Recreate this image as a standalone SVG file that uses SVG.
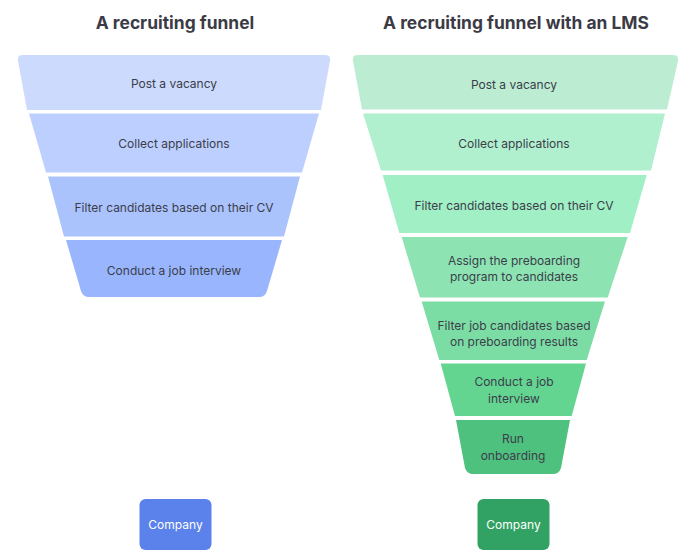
<svg xmlns="http://www.w3.org/2000/svg" width="700" height="559" viewBox="0 0 700 559">
<style>
.title{font-family:Inter,"Noto Sans",sans-serif;font-weight:700;font-size:17.4px;fill:#3b3b46;text-anchor:middle}
.lbl{font-family:Inter,"Noto Sans",sans-serif;font-size:12px;fill:#3b3d4b;text-anchor:middle;dominant-baseline:central}
.co{font-family:Inter,"Noto Sans",sans-serif;font-size:12px;fill:#ffffff;text-anchor:middle;dominant-baseline:central}
</style>
<rect width="700" height="559" fill="#ffffff"/>
<text class="title" x="175" y="29">A recruiting funnel</text>
<text class="title" x="516" y="29">A recruiting funnel with an LMS</text>

<g id="left-funnel">
<g id="l1"><path d="M23,55 H325 Q331,55 330,61 L321,110 H27 L18,61 Q17,55 23,55 Z" fill="#ccdafd"/><text class="lbl" x="174" y="83">Post a vacancy</text></g>
<g id="l2"><path d="M29,113.5 H319 L302,172.5 H46 Z" fill="#bdcffe"/><text class="lbl" x="174" y="143">Collect applications</text></g>
<g id="l3"><path d="M48,176.5 H300 L284,236.5 H64 Z" fill="#abc3fd"/><text class="lbl" x="174" y="207">Filter candidates based on their CV</text></g>
<g id="l4"><path d="M66,240 H282 L267,291 Q265,297 259,297 H89 Q83,297 81,291 Z" fill="#98b5fd"/><text class="lbl" x="174" y="270">Conduct a job interview</text></g>
</g>

<g id="right-funnel">
<g id="r1"><path d="M358,55 H673 Q679,55 678,61 L667,109.5 H362 L353,61 Q352,55 358,55 Z" fill="#bcedd3"/><text class="lbl" x="514" y="84">Post a vacancy</text></g>
<g id="r2"><path d="M363,113.5 H665 L651,170.5 H381 Z" fill="#b0f0ce"/><text class="lbl" x="514" y="143">Collect applications</text></g>
<g id="r3"><path d="M382.7,175 H646.7 L630,233 H399.3 Z" fill="#a1efc4"/><text class="lbl" x="514" y="205.5">Filter candidates based on their CV</text></g>
<g id="r4"><path d="M401.7,237 H627.7 L607.7,297.5 H420 Z" fill="#8de4b2"/><text class="lbl" x="514" y="260">Assign the preboarding</text><text class="lbl" x="514" y="276.5">program to candidates</text></g>
<g id="r5"><path d="M421.7,301.5 H605 L586.7,360 H439.3 Z" fill="#7bdda4"/><text class="lbl" x="514" y="325">Filter job candidates based</text><text class="lbl" x="514" y="341">on preboarding results</text></g>
<g id="r6"><path d="M440.7,363.5 H586 L571.7,416 H455 Z" fill="#64d591"/><text class="lbl" x="514" y="381.5">Conduct a job</text><text class="lbl" x="514" y="398">interview</text></g>
<g id="r7"><path d="M456,420 H570 L561,468 Q559,474 553,474 H473 Q467,474 465,468 Z" fill="#4fc17e"/><text class="lbl" x="513" y="438.5">Run</text><text class="lbl" x="513" y="455">onboarding</text></g>
</g>

<g id="company-left"><rect x="139.5" y="499" width="72" height="51" rx="6" fill="#5a82ea"/><text class="co" x="175.5" y="524.5">Company</text></g>
<g id="company-right"><rect x="477.5" y="499" width="72" height="51" rx="6" fill="#31a263"/><text class="co" x="513.5" y="524.5">Company</text></g>
<g id="connectors"/>
</svg>
